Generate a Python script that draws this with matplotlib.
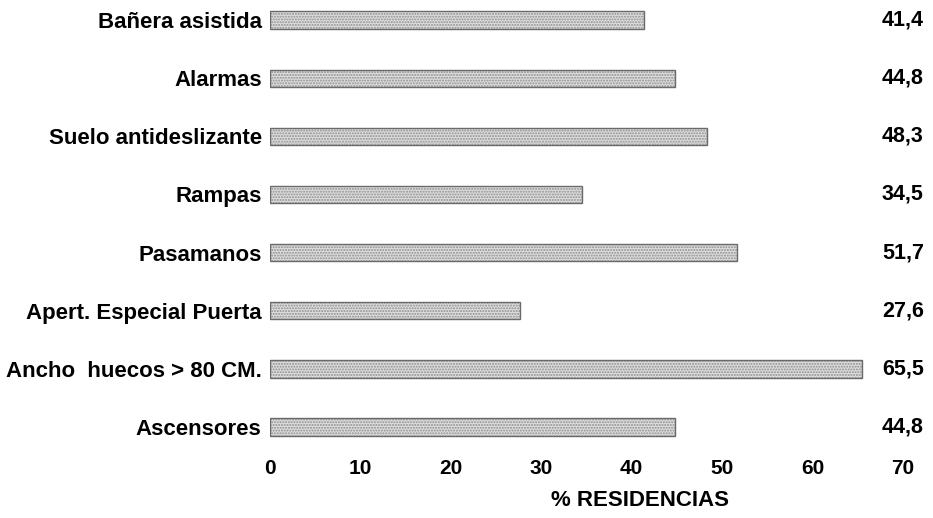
import matplotlib.pyplot as plt
import numpy as np

plt.rcParams['font.family'] = ['Liberation Sans', 'DejaVu Sans']
plt.rcParams['font.weight'] = 'bold'

categories = ['Bañera asistida', 'Alarmas', 'Suelo antideslizante', 'Rampas',
              'Pasamanos', 'Apert. Especial Puerta', 'Ancho  huecos > 80 CM.', 'Ascensores']
values = [41.4, 44.8, 48.3, 34.5, 51.7, 27.6, 65.5, 44.8]
ticks = [0, 10, 20, 30, 40, 50, 60, 70]

fig = plt.figure(figsize=(9.33, 5.18), dpi=100)
ax = fig.add_axes([0.2894, 0.1467, 0.6784, 0.8436])

y = np.arange(len(categories))
# dotted fill first, then a darker outline on top
ax.barh(y, values, height=0.3, color='#dedede', edgecolor='#8e8e8e',
        hatch='......', linewidth=0)
ax.barh(y, values, height=0.3, fill=False, edgecolor='#6a6a6a', linewidth=1.0)

# value column at the right, lined up with the 70 tick
for i, v in enumerate(values):
    ax.text(70, i, f"{v:.1f}".replace('.', ','), ha='center', va='center',
            fontsize=15.5, fontweight='bold', clip_on=False)

ax.set_xlim(0, 70)
ax.set_ylim(7.26, -0.26)
ax.set_yticks(y)
ax.set_yticklabels(categories, fontsize=16, fontweight='bold')
ax.set_xticks(ticks)
ax.set_xticklabels([str(t) for t in ticks], fontsize=15, fontweight='bold')
ax.tick_params(axis='both', length=0)
ax.tick_params(axis='x', pad=12)
ax.tick_params(axis='y', pad=6)

ax.set_xlabel('% RESIDENCIAS', fontsize=16, fontweight='bold')
ax.xaxis.label.set_va('center')
ax.xaxis.set_label_coords(0.585, -0.133)

for s in ax.spines.values():
    s.set_visible(False)

fig.savefig('out.png', dpi=100)
